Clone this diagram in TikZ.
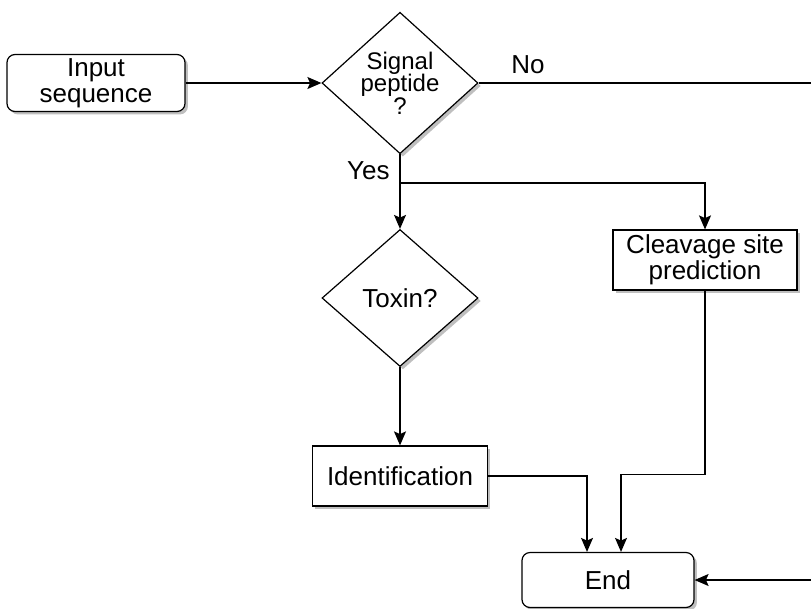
\documentclass[tikz,border=0pt]{standalone}
\usepackage{fontspec}
\setmainfont{Liberation Sans}
\usetikzlibrary{positioning,shapes.geometric,shadows,arrows.meta}

\begin{document}
\begin{tikzpicture}[
    x=0.75pt, y=-0.75pt,
    every text node part/.style={align=center},
    >={Stealth[length=10.5pt,width=9pt,inset=2pt]},
    box/.style={
      % The shape:
      rectangle,
      inner sep=0pt,
      % The border:
      draw=black, line width=0.9pt,
      fill=white,
      % a light grey shadow to the lower right
      drop shadow={shadow xshift=2.2pt, shadow yshift=-2.2pt, fill=black!25, opacity=1},
      % Font
      font=\fontsize{19.5pt}{19.5pt}\selectfont,
    },
    terminal/.style={box, rounded corners=6pt},
    decision/.style={
      box, diamond,
      minimum width=117pt, minimum height=102.75pt,
    },
    flow/.style={->, line width=0.9pt, color=black},
    label/.style={font=\fontsize{19.5pt}{19.5pt}\selectfont},
  ]

    \clip (0,0) rectangle (811,608);

    \node[terminal, minimum width=133.5pt, minimum height=42.75pt] (input) at (96,83) {Input\\sequence};
    \node[decision, font=\fontsize{18pt}{17pt}\selectfont] (signal) at (400,83) {Signal\\peptide\\?};
    \node[decision] (toxin) at (400,298) {Toxin?};
    \node[box, minimum width=138pt, minimum height=45pt] (cleavage) at (705,260) {Cleavage site\\prediction};
    \node[box, minimum width=131.25pt, minimum height=45pt] (ident) at (400,476) {Identification};
    \node[terminal, minimum width=129pt, minimum height=41.25pt] (end) at (608,580) {End};

    \coordinate (split) at (400,183);

    \draw[flow] (input.east) -- (signal.west);
    \draw[flow] (signal.east) -- ++(380,0)
          node [pos=0.13, label, above=3pt] {No} |- (end.east);
    \draw[flow] (signal.south) -- (toxin.north)
          node [pos=0.22, label, left=4pt] {Yes};
    \draw[flow] (split) -| (cleavage.north);
    \draw[flow] (toxin.south) -- (ident.north);
    \draw[flow] (ident.east) -| ([xshift=-15.75pt]end.north);
    \draw[flow] (cleavage.south) -- ++(0,184) -| ([xshift=9.75pt]end.north);
  \end{tikzpicture}
\end{document}
